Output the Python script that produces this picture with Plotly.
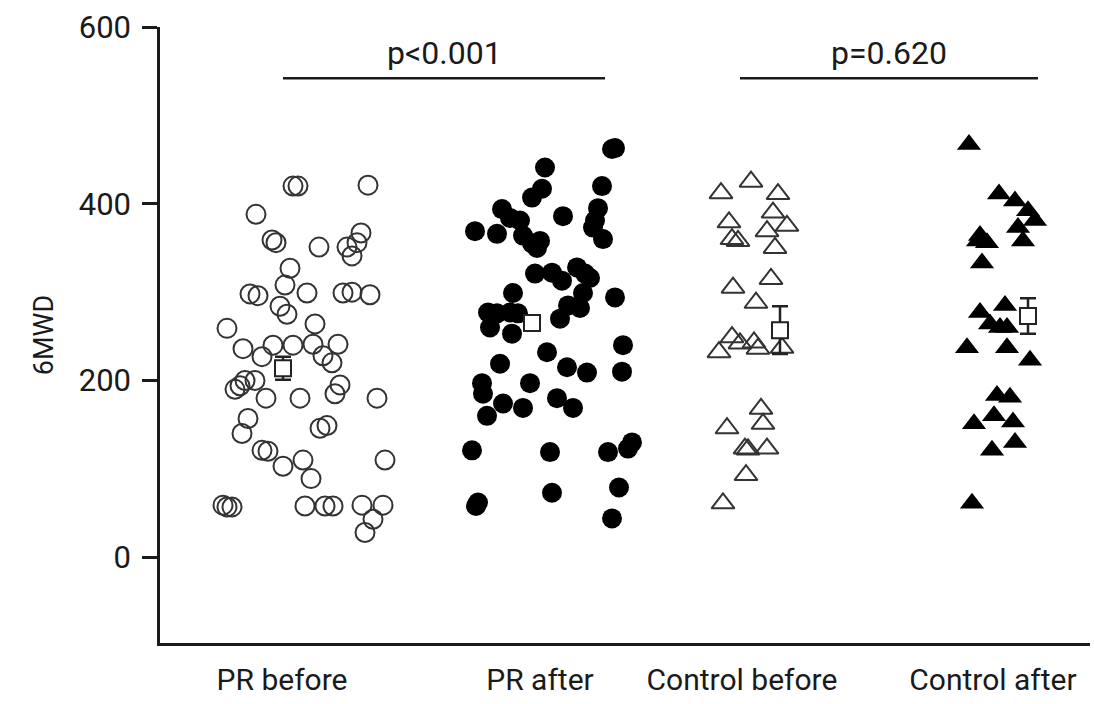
import plotly.graph_objects as go

# ---------------- data ----------------
categories = ["PR before", "PR after", "Control before", "Control after"]
y_ticks = [0, 200, 400, 600]

# x jitter of each point (pixels-like units, offset from group label centre)
pr_before_x = [11, 16, 86, -26, -10, -6, 37, 79, 75, 65, 70, 8, 3, -32, -24, 25, 61, 70, 88, -2,
               5, 33, -55, -39, -9, 11, 31, 56, -20, 41, 50, -47, -42, -37, -27, -16, 18, 53, 58, 95,
               -34, -40, 38, 45, -20, -14, 1, 21, 29, 103, -59, -55, -50, 23, 43, 51, 80, 101, 91, 83]
pr_before_y = [420, 420, 421, 388, 359, 356, 351, 367, 356, 351, 341, 327, 308, 298, 296, 299, 299, 300, 297, 284,
               275, 264, 259, 236, 240, 240, 241, 241, 227, 228, 220, 190, 194, 200, 200, 180, 180, 185, 195, 180,
               157, 140, 146, 149, 121, 120, 103, 110, 89, 110, 59, 57, 57, 58, 58, 58, 59, 59, 43, 28]

pr_after_x = [72, 75, 5, 2, -8, 62, 23, -38, -30, -20, -65, -43, -17, -8, 0, -3, 58, 55, 53, 63,
              -5, 12, 22, 37, 45, 50, 43, -27, 75, -52, -43, -30, -22, -50, -28, 20, 28, 40, 83, 7,
              -40, 27, 47, 82, -58, -57, -53, -37, -17, -10, 17, 33, -68, 10, 68, 88, 92, -62, -64, 12,
              79, 72]
pr_after_y = [462, 463, 441, 417, 407, 420, 386, 394, 384, 381, 369, 366, 364, 355, 358, 350, 395, 381, 373, 360,
              321, 322, 313, 328, 321, 316, 299, 299, 294, 277, 276, 277, 276, 260, 253, 270, 285, 282, 240, 232,
              219, 215, 209, 210, 197, 185, 160, 174, 169, 197, 180, 169, 121, 119, 119, 123, 130, 62, 58, 73,
              79, 44]

ctrl_before_x = [9, -21, 36, 31, -13, 25, 45, -4, -10, 33, 29, -9, 14, -10, -23, -2, 12, 16, 40,
                 19, 21, -15, 3, 6, 25, 4, -19]
ctrl_before_y = [425, 412, 411, 390, 379, 369, 375, 358, 360, 350, 315, 305, 288, 249, 232, 242, 243, 236, 237,
                 168, 151, 146, 123, 122, 123, 93, 61]

ctrl_after_x = [-24, 6, 22, 35, 42, 25, 30, -13, -6, -15, -11, -13, 12, -3, 7, 14, -26, 14, 37,
                4, 17, 1, -19, 20, 22, -1, -21]
ctrl_after_y = [467, 411, 403, 392, 381, 373, 358, 364, 356, 358, 333, 277, 285, 264, 260, 260, 237, 237, 223,
                183, 181, 160, 151, 153, 130, 121, 61]

mean_x = [1, -8, 38, 35]
mean_y = [214, 265, 257, 273]
sem_y = [13, 6, 27, 20]

p_texts = ["p<0.001", "p=0.620"]
p_level = 542

# ---------------- layout constants ----------------
group_pos = [122, 380, 582, 833]
bracket_span = [(123, 445), (580, 878)]
FONT = "Roboto, Liberation Sans, sans-serif"
INK = "#1a1a1a"

fig = go.Figure()

def shift(xs, g):
    return [group_pos[g] + v for v in xs]

styles = [
    dict(symbol="circle-open", size=19, color="#333333", line=dict(width=2, color="#333333")),
    dict(symbol="circle", size=20, color="#000000", line=dict(width=0)),
    dict(symbol="triangle-up-open", size=20, color="#333333", line=dict(width=2, color="#333333")),
    dict(symbol="triangle-up", size=21, color="#000000", line=dict(width=0)),
]
series = [(pr_before_x, pr_before_y), (pr_after_x, pr_after_y),
          (ctrl_before_x, ctrl_before_y), (ctrl_after_x, ctrl_after_y)]

for g, (xs, ys) in enumerate(series):
    fig.add_trace(go.Scatter(x=shift(xs, g), y=ys, mode="markers",
                             marker=styles[g], showlegend=False, hoverinfo="y"))

fig.add_trace(go.Scatter(
    x=[group_pos[i] + mean_x[i] for i in range(4)], y=mean_y, mode="markers",
    marker=dict(symbol="square", size=16, color="white", line=dict(width=2, color="#222")),
    error_y=dict(type="data", array=sem_y, visible=True, color="#222", thickness=2.5, width=8),
    showlegend=False))

for (x0, x1), txt in zip(bracket_span, p_texts):
    fig.add_shape(type="line", x0=x0, x1=x1, y0=p_level, y1=p_level,
                  line=dict(color=INK, width=2.5))
    fig.add_annotation(x=(x0 + x1) / 2, y=p_level, text=txt, showarrow=False,
                       yanchor="bottom", yshift=4, font=dict(family=FONT, size=32, color=INK))

fig.update_layout(
    width=1094, height=704,
    margin=dict(l=160, r=4, t=27, b=61),
    paper_bgcolor="white", plot_bgcolor="white",
    font=dict(family=FONT, color=INK),
    xaxis=dict(range=[0, 930], tickvals=group_pos, ticktext=categories,
               showgrid=False, zeroline=False, showline=True, linecolor=INK, linewidth=2.5,
               ticks="", ticklabelstandoff=8, tickfont=dict(size=30, family=FONT, color=INK)),
    yaxis=dict(range=[-97, 600], tickvals=y_ticks, showgrid=False, zeroline=False,
               showline=True, linecolor=INK, linewidth=2.5, ticks="outside", ticklen=15,
               tickwidth=2.5, tickcolor=INK, ticklabelstandoff=5,
               tickfont=dict(size=31, family=FONT, color=INK),
               title=dict(text="6MWD", font=dict(size=27, family=FONT, color=INK), standoff=18)),
)

fig.write_html("out.html")
